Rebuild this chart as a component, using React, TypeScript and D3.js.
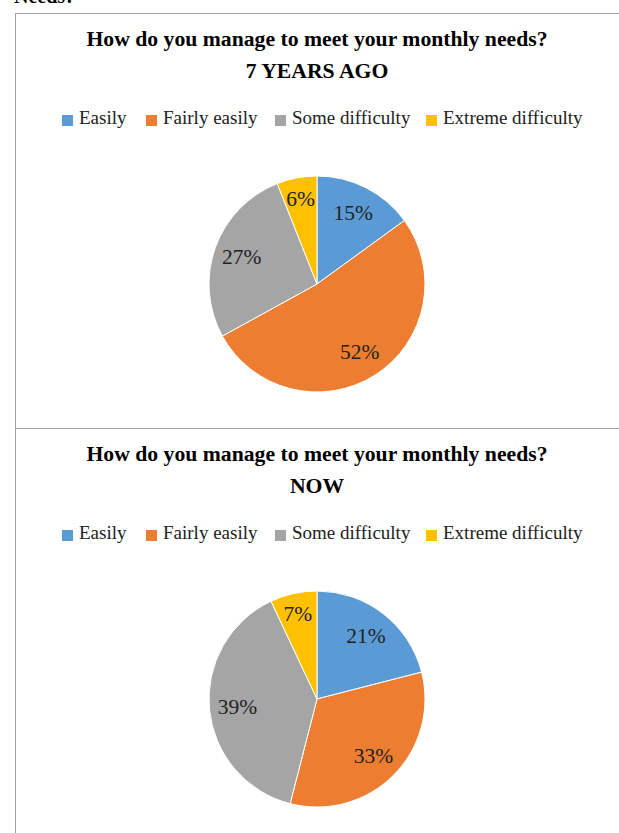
import * as d3 from "d3";

const CATEGORIES = ["Easily", "Fairly easily", "Some difficulty", "Extreme difficulty"];
const COLORS = ["#5B9BD5", "#ED7D31", "#A5A5A5", "#FFC000"];
const BEFORE_VALUES = [15, 52, 27, 6];
const NOW_VALUES = [21, 33, 39, 7];
const TITLE = "How do you manage to meet your monthly needs?";
const PANELS = [
  { subtitle: "7 YEARS AGO", values: BEFORE_VALUES },
  { subtitle: "NOW", values: NOW_VALUES },
];

const W = 619;
const H = 833;
const PANEL_TOP = 13;
const PANEL_H = 415;
const CX = 317;
const R = 108;
const FONT = "'Liberation Serif', 'Times New Roman', serif";

// legend item x positions (square left edge)
const LEGEND_X = [62, 146, 275, 426];

function Panel({ subtitle, values, y0 }: { subtitle: string; values: number[]; y0: number }) {
  const pie = d3.pie<number>().sort(null).value((d) => d)(values);
  const arc = d3.arc<d3.PieArcDatum<number>>().innerRadius(0).outerRadius(R);
  const total = d3.sum(values);
  const cy = y0 + 271;

  return (
    <g>
      <text x={CX} y={y0 + 33} textAnchor="middle" fontFamily={FONT} fontWeight="bold" fontSize={21.7} fill="#000">
        {TITLE}
      </text>
      <text x={CX} y={y0 + 65} textAnchor="middle" fontFamily={FONT} fontWeight="bold" fontSize={21.7} fill="#000">
        {subtitle}
      </text>
      {CATEGORIES.map((c, i) => (
        <g key={c}>
          <rect x={LEGEND_X[i]} y={y0 + 102} width={11} height={11} fill={COLORS[i]} />
          <text x={LEGEND_X[i] + 17} y={y0 + 111} fontFamily={FONT} fontSize={19} fill="#222">
            {c}
          </text>
        </g>
      ))}
      <g transform={`translate(${CX},${cy})`}>
        {pie.map((d, i) => (
          <path key={i} d={arc(d) ?? ""} fill={COLORS[i]} stroke="#fff" strokeWidth={1} />
        ))}
        {pie.map((d, i) => {
          // narrow slices get their label pushed out a little, like Excel's best fit
          const share = d.data / total;
          const lr = R * (share < 0.1 ? 0.81 : 0.74);
          const [lx, ly] = d3.arc<d3.PieArcDatum<number>>().innerRadius(lr).outerRadius(lr).centroid(d);
          return (
            <text key={"l" + i} x={lx} y={ly} dy="0.35em" textAnchor="middle" fontFamily={FONT} fontSize={21.5} fill="#222">
              {Math.round(share * 100)}%
            </text>
          );
        })}
      </g>
    </g>
  );
}

export default function App() {
  return (
    <svg width={W} height={H} style={{ position: "absolute", left: 0, top: 0, background: "#fff" }}>
      <rect width={W} height={H} fill="#fff" />
      <text x={14} y={3} fontFamily={FONT} fontWeight="bold" fontSize={20} fill="#000">
        Needs?
      </text>
      <line x1={15} x2={W} y1={PANEL_TOP + 0.5} y2={PANEL_TOP + 0.5} stroke="#a0a0a0" />
      <line x1={15} x2={W} y1={PANEL_TOP + PANEL_H + 0.5} y2={PANEL_TOP + PANEL_H + 0.5} stroke="#a0a0a0" />
      <line x1={15.5} x2={15.5} y1={PANEL_TOP} y2={H} stroke="#a0a0a0" />
      {PANELS.map((p, i) => (
        <Panel key={p.subtitle} subtitle={p.subtitle} values={p.values} y0={PANEL_TOP + i * PANEL_H} />
      ))}
    </svg>
  );
}
